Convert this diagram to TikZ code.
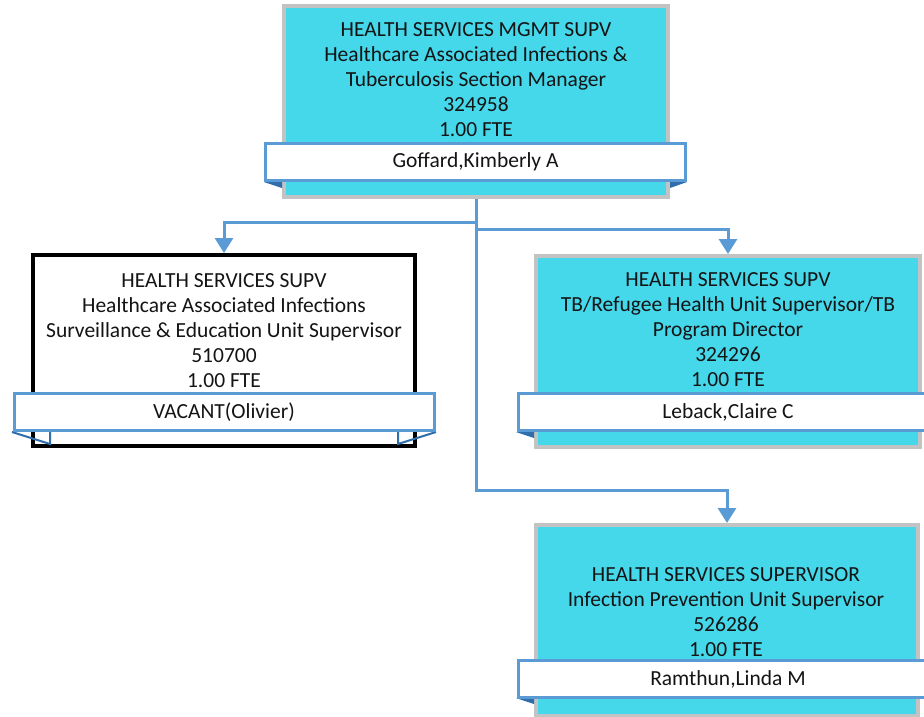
\documentclass[tikz,border=0pt]{standalone}
\usepackage{fontspec}
\setmainfont{Carlito}
\usetikzlibrary{arrows.meta}
\definecolor{boxcyan}{HTML}{45D7EA}
\definecolor{boxgray}{HTML}{C3C3C3}
\definecolor{barblue}{HTML}{5B9BD5}
\definecolor{folddark}{HTML}{2F6EAB}
\definecolor{inktext}{HTML}{141414}
\begin{document}
\begin{tikzpicture}[x=1pt,y=-1pt,
    posbox/.style={draw=boxgray, fill=boxcyan, line width=4pt, inner sep=0pt,
      minimum width=384pt, minimum height=191pt},
    vacbox/.style={draw=black, fill=white, line width=4pt, inner sep=0pt,
      minimum width=382pt, minimum height=191pt},
    namebar/.style={draw=barblue, fill=white, line width=3pt, inner sep=0pt,
      minimum width=420pt, minimum height=37pt, text=inktext,
      font=\fontsize{21.5}{25}\selectfont},
    jobtext/.style={align=center, text=inktext, inner sep=0pt,
      font=\fontsize{21.5}{25}\selectfont},
    link/.style={draw=barblue, line width=3pt, -{Triangle[width=18pt,length=15pt]}}]
  \clip (0,0) rectangle (924,716);
  \fill[white] (0,0) rectangle (924,716);

  % boxes
  \node[posbox] (top) at (476,101.5) {};
  \node[vacbox] (lbox) at (224,350.5) {};
  \node[posbox] (rbox) at (728,351.5) {};
  \node[posbox, minimum width=382pt] (bbox) at (727,620.5) {};

  % folds under the name bars
  \fill[folddark] (264,182) -- (282,182) -- (282,188) -- cycle;
  \fill[folddark] (687,182) -- (670,182) -- (670,188) -- cycle;
  \draw[folddark, line width=2pt] (12,432) -- (50,444) -- (50,432);
  \draw[folddark, line width=2pt] (436,432) -- (398,444) -- (398,432);
  \fill[folddark] (516,432) -- (534,432) -- (534,438) -- cycle;
  \fill[folddark] (516,698) -- (534,698) -- (534,704) -- cycle;

  % name bars
  \node[namebar] (topname) at (475.5,162) {Goffard,Kimberly A};
  \node[namebar] (lname) at (224,412) {VACANT(Olivier)};
  \node[namebar] (rname) at (728,412) {Leback,Claire C};
  \node[namebar] (bname) at (728,679) {Ramthun,Linda M};

  % job texts
  \node[jobtext] (toptext) at (476,80) {HEALTH SERVICES MGMT SUPV\\
    Healthcare Associated Infections \&\\ Tuberculosis Section Manager\\
    324958\\ 1.00 FTE};
  \node[jobtext] (ltext) at (224,331) {HEALTH SERVICES SUPV\\
    Healthcare Associated Infections\\
    Surveillance \& Education Unit Supervisor\\ 510700\\ 1.00 FTE};
  \node[jobtext] (rtext) at (728,330) {HEALTH SERVICES SUPV\\
    TB/Refugee Health Unit Supervisor/TB\\ Program Director\\
    324296\\ 1.00 FTE};
  \node[jobtext] (btext) at (726,612) {HEALTH SERVICES SUPERVISOR\\
    Infection Prevention Unit Supervisor\\ 526286\\ 1.00 FTE};

  % connectors
  \coordinate (jl) at (476,222);
  \coordinate (jr) at (476,229);
  \coordinate (jb) at (476,490);
  \draw[link] (top.south) -- (jb) -| (bbox.north);
  \draw[link] (jl) -| (lbox.north);
  \draw[link] (jr) -| (rbox.north);
\end{tikzpicture}
\end{document}
